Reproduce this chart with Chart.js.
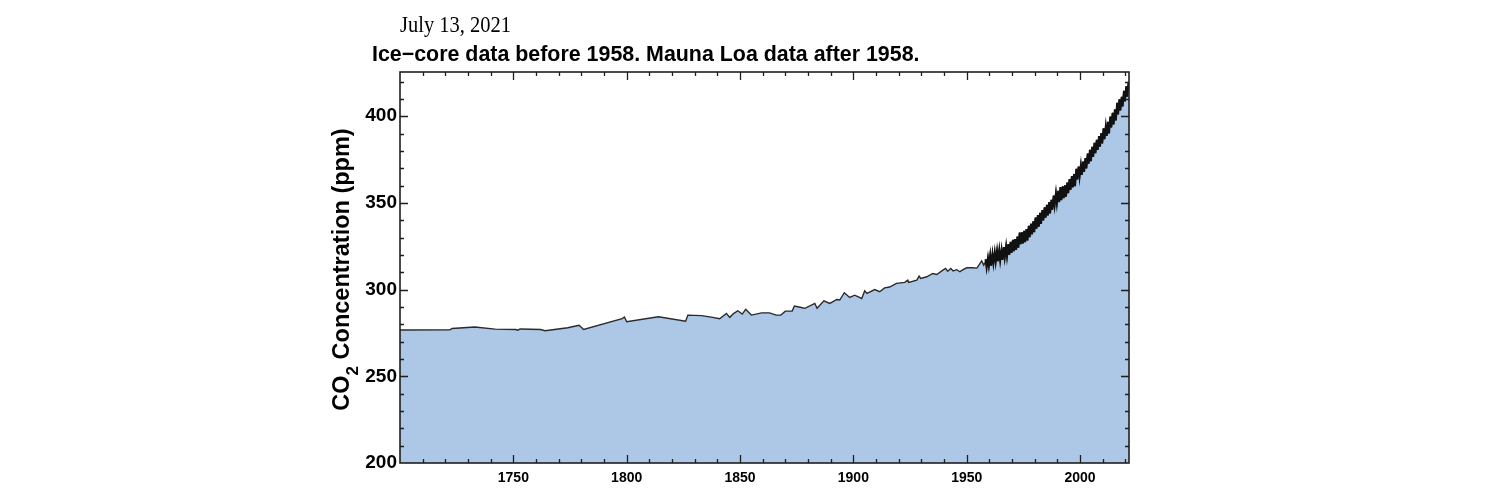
<!DOCTYPE html>
<html>
<head>
<meta charset="utf-8">
<script src="https://cdn.jsdelivr.net/npm/chart.js@4/dist/chart.umd.min.js"></script>
<style>
  html, body { margin: 0; padding: 0; background: #ffffff; }
  #wrap { width: 1500px; height: 500px; position: relative; }
</style>
</head>
<body>
<div id="wrap"><canvas id="c" width="1500" height="500"></canvas></div>
<script>
// ---- Text ----
const titleText = "July 13, 2021";
const subtitleText = "Ice\u2212core data before 1958. Mauna Loa data after 1958.";
const yTitleMain = "CO";
const yTitleSub = "2";
const yTitleRest = " Concentration (ppm)";

// ---- Tick labels ----
const xTickValues = [1750, 1800, 1850, 1900, 1950, 2000];
const yTickValues = [200, 250, 300, 350, 400];

// ---- Ice-core record (year, ppm) ----
const iceYears = [1700, 1722, 1723, 1733, 1742, 1751, 1752, 1753, 1762, 1764, 1774, 1779, 1781,
  1798, 1799, 1800, 1814, 1826, 1827, 1833, 1838, 1841, 1844, 1845.5, 1847, 1849, 1851, 1852.5,
  1855, 1859.6, 1863, 1866, 1868, 1870, 1873, 1874, 1877, 1878.6, 1883, 1884, 1887, 1889.6,
  1892.7, 1894, 1896, 1898.4, 1900.6, 1903.7, 1905, 1906, 1909.4, 1911.6, 1913.8, 1916, 1919,
  1922.7, 1924, 1924.4, 1928, 1929, 1929.7, 1932.4, 1935, 1936.8, 1939.5, 1940.7, 1941.6, 1943,
  1944, 1945.6, 1947, 1948, 1950, 1952.6, 1954.5, 1956.6, 1957.5];
const iceCO2 = [276.7, 276.8, 277.6, 278.4, 277.2, 277.0, 276.6, 277.3, 277.0, 276.3, 278.0, 279.4, 277.0,
  283.3, 284.2, 281.5, 284.3, 281.8, 285.3, 285.0, 284.0, 283.2, 286.3, 284.0, 286.0, 287.8, 285.9, 288.6,
  285.3, 286.6, 286.6, 285.3, 285.3, 287.6, 287.6, 290.5, 289.7, 289.2, 292.0, 289.2, 293.5, 292.0,
  294.3, 294.0, 298.2, 295.5, 296.8, 294.9, 299.3, 297.8, 300.0, 298.8, 301.0, 301.5, 303.6,
  304.2, 305.5, 304.2, 305.5, 307.8, 306.5, 307.4, 309.3, 308.7, 311.2, 312.2, 310.6, 312.2,
  310.8, 311.5, 310.3, 311.2, 312.6, 312.6, 312.4, 316.6, 314.1];

// ---- Mauna Loa record: yearly spring peak and autumn trough (ppm) ----
const mlYears = [1958, 1959, 1960, 1961, 1962, 1963, 1964, 1965, 1966, 1967, 1968, 1969,
  1970, 1971, 1972, 1973, 1974, 1975, 1976, 1977, 1978, 1979, 1980, 1981, 1982, 1983, 1984,
  1985, 1986, 1987, 1988, 1989, 1990, 1991, 1992, 1993, 1994, 1995, 1996, 1997, 1998, 1999,
  2000, 2001, 2002, 2003, 2004, 2005, 2006, 2007, 2008, 2009, 2010, 2011, 2012, 2013, 2014,
  2015, 2016, 2017, 2018, 2019, 2020, 2021];
const mlPeak = [317.5, 318.3, 320.0, 320.6, 321.5, 322.3, 322.9, 322.9, 324.5, 325.0, 326.2, 327.6,
  328.7, 329.1, 330.6, 332.9, 333.1, 333.9, 334.9, 336.8, 338.0, 339.4, 341.5, 343.0, 344.3, 345.9, 347.5,
  348.9, 350.4, 351.8, 354.2, 355.6, 357.0, 359.1, 359.6, 360.1, 361.7, 363.7, 365.4, 366.7, 369.6, 371.0,
  371.8, 373.8, 375.9, 378.5, 380.6, 382.4, 384.6, 386.4, 388.5, 390.2, 393.0, 394.2, 396.8, 399.8, 401.9,
  403.9, 407.7, 409.7, 411.2, 414.7, 417.3, 419.1];
const mlTrough = [312.7, 313.8, 313.8, 315.2, 316.0, 316.4, 316.9, 317.1, 318.6, 319.3, 320.0, 321.2,
  322.2, 322.9, 324.2, 326.2, 326.6, 327.4, 328.3, 330.2, 331.9, 333.1, 335.2, 336.3, 337.9, 339.9, 341.5,
  342.8, 343.9, 346.1, 348.6, 349.9, 350.5, 351.6, 352.8, 353.6, 355.6, 357.5, 359.0, 359.6, 363.5, 365.0,
  366.2, 367.9, 369.9, 372.6, 374.1, 376.6, 378.7, 380.6, 382.4, 384.3, 386.8, 388.7, 390.1, 393.5, 395.3,
  397.6, 401.0, 403.4, 405.6, 408.5, 411.3, null];
const mlStart = { year: 1958.2, value: 315.7 };
const mlEnd = { year: 2021.53, value: 417.0 };

// ---- Build point tables for the library ----
const icePoints = iceYears.map((y, i) => ({ x: y, y: iceCO2[i] }));
const mlPoints = [{ x: mlStart.year, y: mlStart.value }];
mlYears.forEach((yr, i) => {
  mlPoints.push({ x: yr + 0.37, y: mlPeak[i] });
  if (mlTrough[i] !== null) mlPoints.push({ x: yr + 0.79, y: mlTrough[i] });
});
mlPoints.push({ x: mlEnd.year, y: mlEnd.value });
const allPoints = icePoints.concat(mlPoints);

const FILL = 'rgb(172,200,230)';
const INK = '#1e1e1e';
const SANS = "'Liberation Sans', Arial, Helvetica, sans-serif";
const SERIF = "'Liberation Serif', 'Times New Roman', serif";

const framePlugin = {
  id: 'frame',
  afterDatasetsDraw(chart) {
    const { ctx, chartArea: a, scales } = chart;
    const xs = scales.x, ys = scales.y;
    ctx.save();
    ctx.strokeStyle = INK;
    ctx.lineWidth = 1.3;
    ctx.beginPath();
    for (let v = 1700; v <= 2020; v += 10) {
      const px = Math.round(xs.getPixelForValue(v)) + 0.5;
      if (px <= a.left + 1 || px >= a.right - 1) continue;
      const len = (v % 50 === 0) ? 8 : 4;
      ctx.moveTo(px, a.bottom); ctx.lineTo(px, a.bottom - len);
      ctx.moveTo(px, a.top); ctx.lineTo(px, a.top + len);
    }
    for (let v = 200; v <= 420; v += 10) {
      const py = Math.round(ys.getPixelForValue(v)) + 0.5;
      if (py <= a.top + 1 || py >= a.bottom - 1) continue;
      const len = (v % 50 === 0) ? 8 : 4;
      ctx.moveTo(a.left, py); ctx.lineTo(a.left + len, py);
      ctx.moveTo(a.right, py); ctx.lineTo(a.right - len, py);
    }
    ctx.stroke();
    ctx.lineWidth = 1.6;
    ctx.strokeRect(a.left, a.top, a.right - a.left, a.bottom - a.top);

    // titles
    ctx.fillStyle = '#000';
    ctx.textBaseline = 'alphabetic';
    ctx.textAlign = 'left';
    ctx.save();
    ctx.translate(a.left, 32);
    ctx.scale(1, 1.08);
    ctx.font = `20.5px ${SERIF}`;
    ctx.fillText(titleText, 0, 0);
    ctx.restore();
    ctx.font = `bold 21.4px ${SANS}`;
    ctx.fillText(subtitleText, a.left - 28, 61);

    // rotated y-axis title with subscript
    const big = `bold 23.5px ${SANS}`;
    const small = `bold 17px ${SANS}`;
    ctx.font = big;
    const w1 = ctx.measureText(yTitleMain).width;
    const w3 = ctx.measureText(yTitleRest).width;
    ctx.font = small;
    const w2 = ctx.measureText(yTitleSub).width;
    const total = w1 + w2 + w3;
    const cy = (a.top + a.bottom) / 2 + 2;
    ctx.translate(349, cy);
    ctx.rotate(-Math.PI / 2);
    let x0 = -total / 2;
    ctx.font = big;
    ctx.fillText(yTitleMain, x0, 0);
    ctx.font = small;
    ctx.fillText(yTitleSub, x0 + w1, 9);
    ctx.font = big;
    ctx.fillText(yTitleRest, x0 + w1 + w2, 0);
    ctx.restore();
  }
};

new Chart(document.getElementById('c'), {
  type: 'line',
  data: {
    datasets: [
      {
        label: 'Mauna Loa',
        data: mlPoints,
        borderColor: '#111',
        borderWidth: 2,
        fill: false,
        pointRadius: 0,
        tension: 0,
        order: 0
      },
      {
        label: 'CO2',
        data: allPoints,
        borderColor: '#2a2a2a',
        borderWidth: 1.4,
        backgroundColor: FILL,
        fill: 'start',
        pointRadius: 0,
        tension: 0,
        order: 1
      }
    ]
  },
  options: {
    responsive: false,
    animation: false,
    events: [],
    layout: { padding: { top: 72, right: 371, bottom: 0, left: 0 } },
    plugins: { legend: { display: false }, title: { display: false }, tooltip: { enabled: false } },
    scales: {
      x: {
        type: 'linear',
        min: 1700,
        max: 2021.6,
        grid: { display: false, drawTicks: false },
        border: { display: false },
        afterFit(s) { s.height = 37; },
        afterBuildTicks(s) { s.ticks = xTickValues.map(v => ({ value: v })); },
        ticks: {
          color: '#000',
          font: { family: SANS, size: 14, weight: 'bold' },
          padding: 7,
          maxRotation: 0,
          callback: v => String(v)
        }
      },
      y: {
        type: 'linear',
        min: 200,
        max: 425.5,
        grid: { display: false, drawTicks: false },
        border: { display: false },
        afterFit(s) { s.width = 400; },
        afterBuildTicks(s) { s.ticks = yTickValues.map(v => ({ value: v })); },
        ticks: {
          color: '#000',
          font: { family: SANS, size: 19, weight: 'bold' },
          padding: 3,
          callback: v => String(v)
        }
      }
    }
  },
  plugins: [framePlugin]
});
</script>
</body>
</html>
